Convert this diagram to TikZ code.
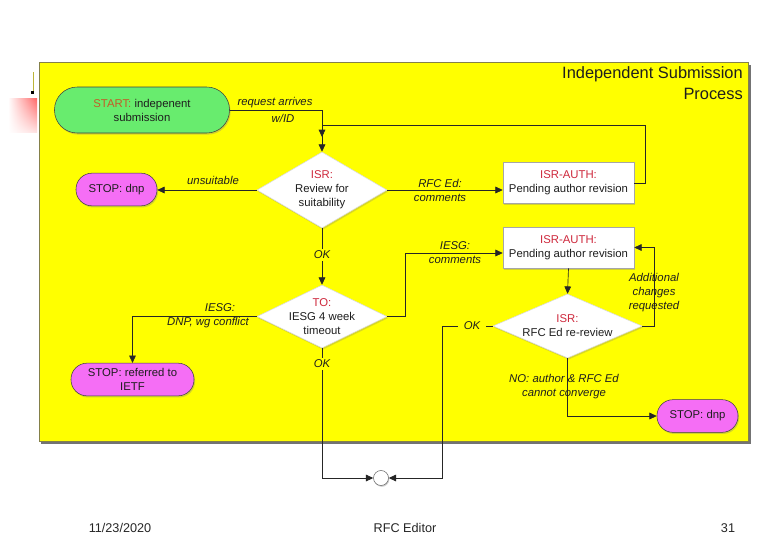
\documentclass[tikz,border=0pt]{standalone}
\usepackage{fontspec}
\setmainfont{Liberation Sans}
\usetikzlibrary{arrows.meta,shapes.geometric,shadows,shadings}
\definecolor{panel}{RGB}{255,255,0}
\definecolor{startg}{RGB}{104,236,110}
\definecolor{stopm}{RGB}{245,110,245}
\definecolor{redc}{RGB}{206,40,60}
\definecolor{startc}{RGB}{196,92,40}
\definecolor{ink}{RGB}{30,30,30}
\tikzset{
  basefont/.style={font=\fontsize{8.5}{10.5}\selectfont},
  startpill/.style={basefont, draw=black!75, fill=startg, rounded corners=17pt, minimum width=131.25pt, minimum height=34.5pt, align=center, inner sep=0pt, text=ink, drop shadow={opacity=0.35, shadow xshift=0.8pt, shadow yshift=-1.2pt}},
  stoppill/.style={basefont, draw=black!75, fill=stopm, rounded corners=12pt, minimum height=24.5pt, align=center, inner sep=0pt, text=ink, drop shadow={opacity=0.35, shadow xshift=0.8pt, shadow yshift=-1.2pt}},
  authbox/.style={basefont, draw=black!35, fill=white, minimum width=98.25pt, minimum height=30.75pt, align=center, inner sep=0pt, text=ink, drop shadow={opacity=0.35, shadow xshift=0.8pt, shadow yshift=-1.2pt}},
  dia/.style={diamond, draw=black!15, fill=white, inner sep=0pt, drop shadow={opacity=0.3, shadow xshift=0.8pt, shadow yshift=-1.2pt}},
  diatext/.style={basefont, align=center, inner sep=0pt, text=ink},
  conn/.style={draw=black!85, line width=0.5pt, -{Triangle[length=5.5pt,width=5pt]}},
  lbl/.style={basefont, font=\fontsize{8.5}{10.5}\selectfont\itshape, inner sep=0pt, text=ink, align=center},
  lblfill/.style={lbl, fill=panel, inner sep=1.5pt},
}
\begin{document}
\begin{tikzpicture}[x=0.75pt,y=-0.75pt]
\useasboundingbox (0,0) rectangle (780,540);
\fill[white] (0,0) rectangle (780,540);
% slide decoration
\shade[upper left=white, upper right=red!60, lower left=white, lower right=red!12] (8,98) rectangle (37,132);
\draw[yellow!70!black, line width=0.6pt] (33,72) -- (33,92);
\fill[black] (31,91) rectangle (34,94);
% panel
\fill[black!55] (41,64.5) rectangle (750.5,443.5);
\filldraw[fill=panel, draw=black!55!yellow, line width=0.5pt] (39,62) rectangle (748,441);
% title
\node[anchor=east, font=\fontsize{12.3}{14}\selectfont, text=ink, inner sep=0pt] (title1) at (743,74) {Independent Submission};
\node[anchor=east, font=\fontsize{12.3}{14}\selectfont, text=ink, inner sep=0pt] (title2) at (743,94) {Process};
% nodes
\node[startpill] (start) at (142,110) {\textcolor{startc}{START:} indepenent\\submission};
\node[dia, minimum width=97.5pt, minimum height=57pt] (isr) at (322,190) {};
\node[diatext] (isrt) at (isr) {\textcolor{redc}{ISR:}\\Review for\\suitability};
\node[stoppill, minimum width=60.75pt] (dnp1) at (116.5,189.5) {STOP: dnp};
\node[authbox] (auth1) at (568.5,183) {\textcolor{redc}{ISR-AUTH:}\\Pending author revision};
\node[authbox] (auth2) at (568.5,247.5) {\textcolor{redc}{ISR-AUTH:}\\Pending author revision};
\node[dia, minimum width=97.5pt, minimum height=47.25pt] (to) at (322,316.5) {};
\node[diatext] (tot) at (to) {\textcolor{redc}{TO:}\\IESG 4 week\\timeout};
\node[stoppill, minimum width=92.25pt] (ietf) at (132.5,379.5) {STOP: referred to\\IETF};
\node[dia, minimum width=111.75pt, minimum height=48pt] (rev) at (567.5,326) {};
\node[diatext] (revt) at (rev) {\textcolor{redc}{ISR:}\\RFC Ed re-review};
\node[stoppill, minimum width=60.75pt] (dnp2) at (697.5,416) {STOP: dnp};
\node[circle, draw=black!60, fill=white, minimum size=11.25pt, inner sep=0pt, drop shadow={opacity=0.35, shadow xshift=0.6pt, shadow yshift=-1pt}] (end) at (381,478) {};
% helper coordinates
\coordinate (j1) at (322,137);
\coordinate (loopA) at (645,183);
\coordinate (loopB) at (645,125);
\coordinate (c253) at (405,253);
\coordinate (addx) at (654,326);
\coordinate (okx) at (442,326);
% connectors
\draw[conn] (start.east) -| (j1);
\draw[conn] (auth1.east) -- (loopA) -- (loopB) -| (isr.north);
\draw[conn] (isr.west) -- (dnp1.east |- isr.west);
\draw[conn] (isr.east) -- (auth1.west |- isr.east);
\draw[conn] (isr.south) -- (to.north);
\draw[conn] (to.east) -| (c253) -- (auth2.west |- c253);
\draw[conn] (to.west) -| (ietf.north);
\draw[conn] (auth2.south) -- (rev.north);
\draw[conn] (rev.east) -- (addx) |- (auth2.east);
\draw[conn] (rev.south) |- (dnp2.west);
\draw[conn] (rev.west) -- (okx) |- (end.east);
\draw[conn] (to.south) |- (end.west);
% labels
\node[lbl] (l1) at (275,103) {request arrives};
\node[lbl] (l2) at (283,118) {w/ID};
\node[lbl] (l3) at (213,180.5) {unsuitable};
\node[lbl] (l4) at (440,183) {RFC Ed:};
\node[lbl] (l5) at (440,198) {comments};
\node[lblfill] (l6) at (322,255) {OK};
\node[lbl] (l7) at (455,246) {IESG:};
\node[lbl] (l8) at (455,260) {comments};
\node[lbl] (l9) at (220,308) {IESG:};
\node[lbl] (l10) at (208,323) {DNP, wg conflict};
\node[lblfill] (l11) at (322,364) {OK};
\node[lblfill, inner xsep=4pt] (l12) at (472,326) {OK};
\node[lbl] (l13) at (654,293) {Additional\\changes\\requested};
\node[lbl] (l14) at (564,387) {NO: author \& RFC Ed\\cannot converge};
% footer
\node[font=\fontsize{9.5}{11}\selectfont, text=black!85] (f1) at (120,528) {11/23/2020};
\node[font=\fontsize{9.5}{11}\selectfont, text=black!85] (f2) at (405,528) {RFC Editor};
\node[font=\fontsize{9.5}{11}\selectfont, text=black!85] (f3) at (728,528) {31};
\end{tikzpicture}
\end{document}
